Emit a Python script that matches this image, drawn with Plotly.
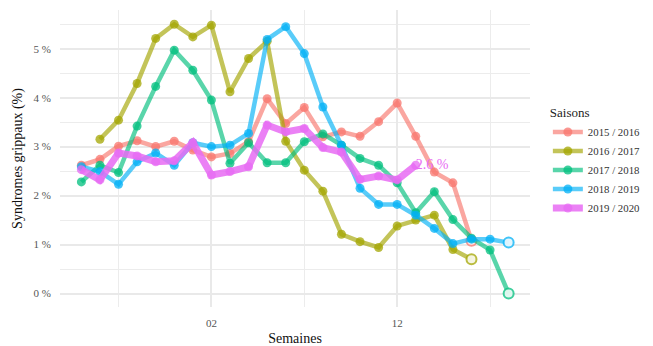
import plotly.graph_objects as go

weeks = ["47", "48", "49", "50", "51", "52", "01", "02", "03", "04", "05", "06",
         "07", "08", "09", "10", "11", "12", "13", "14", "15", "16", "17", "18"]
seasons = ["2015 / 2016", "2016 / 2017", "2017 / 2018", "2018 / 2019", "2019 / 2020"]
colors = ["#F8766D", "#A3A500", "#00BF7D", "#00B0F6", "#E76BF3"]

s2015 = [2.62, 2.74, 3.01, 3.12, 3.00, 3.11, 2.93, 2.79, 2.86, 3.10, 3.98, 3.47,
         3.80, 3.20, 3.30, 3.21, 3.51, 3.89, 3.21, 2.48, 2.26, 1.08]
s2016 = [None, 3.15, 3.54, 4.29, 5.21, 5.50, 5.24, 5.48, 4.12, 4.80, 5.15, 3.11,
         2.52, 2.09, 1.21, 1.06, 0.94, 1.38, 1.50, 1.60, 0.90, 0.70]
s2017 = [2.28, 2.62, 2.47, 3.42, 4.23, 4.97, 4.56, 3.95, 2.66, 3.08, 2.67, 2.67,
         3.10, 3.26, 3.03, 2.76, 2.62, 2.26, 1.65, 2.08, 1.51, 1.13, 0.89, 0.00]
s2018 = [2.59, 2.49, 2.23, 2.69, 2.87, 2.62, 3.08, 3.00, 3.03, 3.27, 5.19, 5.45,
         4.90, 3.81, 3.03, 2.15, 1.82, 1.82, 1.60, 1.33, 1.02, 1.11, 1.11, 1.04]
s2019 = [2.53, 2.32, 2.87, 2.81, 2.69, 2.71, 3.08, 2.42, 2.49, 2.59, 3.44, 3.30,
         3.37, 2.98, 2.89, 2.33, 2.40, 2.32, 2.62]
series = [s2015, s2016, s2017, s2018, s2019]
finished = [True, True, True, True, False]

y_ticks = [0, 1, 2, 3, 4, 5]
x_ticks = ["02", "12"]

SERIF = "Liberation Serif, DejaVu Serif, Times New Roman, serif"


def rgba(hex_color, a):
    h = hex_color.lstrip("#")
    r, g, b = int(h[0:2], 16), int(h[2:4], 16), int(h[4:6], 16)
    return f"rgba({r},{g},{b},{a})"


fig = go.Figure()
for name, col, vals, done in zip(seasons, colors, series, finished):
    xs = [i for i, v in enumerate(vals) if v is not None]
    ys = [v for v in vals if v is not None]
    lw = 7 if not done else 4.5
    la = 0.85 if not done else 0.65
    fig.add_trace(go.Scatter(
        x=xs, y=ys, mode="lines+markers", name=name,
        line=dict(color=rgba(col, la), width=lw),
        marker=dict(color=rgba(col, 0.75), size=9),
        legendgroup=name,
    ))
    if done:
        fig.add_trace(go.Scatter(
            x=[xs[-1]], y=[ys[-1]], mode="markers", showlegend=False,
            marker=dict(color="rgba(255,255,255,0.85)", size=10,
                        line=dict(color=rgba(col, 0.75), width=2)),
            legendgroup=name,
        ))
    else:
        fig.add_trace(go.Scatter(
            x=[xs[-1]], y=[ys[-1]], mode="text", showlegend=False,
            text=[f"{ys[-1]:.1f} %"], textposition="middle right",
            textfont=dict(color=col, size=14, family=SERIF),
        ))

fig.update_layout(
    width=645, height=338,
    margin=dict(l=52, r=123, t=2, b=39, autoexpand=False),
    paper_bgcolor="white", plot_bgcolor="white",
    font=dict(family=SERIF, size=12, color="#222"),
    legend=dict(
        title=dict(text="Saisons", font=dict(size=13, color="#222", family=SERIF)),
        x=1.038, y=0.695, xanchor="left", yanchor="top",
        font=dict(size=10.8, color="#333", family=SERIF),
        tracegroupgap=0, itemwidth=30,
    ),
    showlegend=True,
)
fig.update_xaxes(
    range=[-1.15, 24.15], automargin=False,
    tickvals=[weeks.index(w) for w in x_ticks], ticktext=x_ticks,
    showgrid=True, gridcolor="#e9e9e9", gridwidth=1.6,
    minor=dict(tickvals=[2, 12, 22], showgrid=True, gridcolor="#ececec", gridwidth=1.3),
    zeroline=False, showline=False, ticks="",
    tickfont=dict(size=11, color="#555", family=SERIF), ticklabelstandoff=8,
    title=dict(text="Semaines", font=dict(size=14, color="#111", family=SERIF), standoff=6),
)
fig.update_yaxes(
    range=[-0.275, 5.79], automargin=False,
    tickvals=y_ticks, ticktext=[f"{t} %" for t in y_ticks],
    showgrid=True, gridcolor="#e9e9e9", gridwidth=1.6,
    minor=dict(dtick=0.5, tick0=0, showgrid=True, gridcolor="#ececec", gridwidth=1.3),
    zeroline=False, showline=False, ticks="",
    tickfont=dict(size=11, color="#555", family=SERIF), ticklabelstandoff=8,
    title=dict(text="Syndromes grippaux (%)", font=dict(size=14, color="#111", family=SERIF), standoff=7),
)

fig.write_html("out.html")
